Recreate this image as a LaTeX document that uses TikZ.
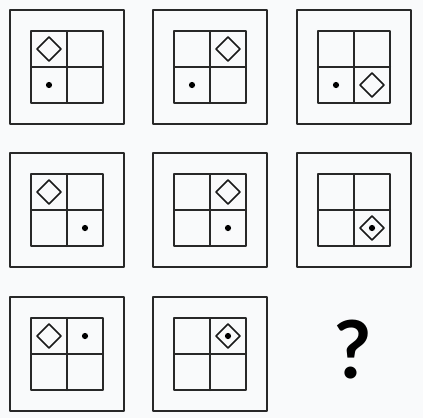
\documentclass[tikz,border=0pt]{standalone}
\usepackage{fontspec}
\setsansfont{Lato}
\definecolor{paper}{RGB}{249,250,251}
\definecolor{ink}{RGB}{40,40,40}
\begin{document}
\begin{tikzpicture}[x=1pt, y=-1pt, line join=round, line cap=round,
    frame/.style={draw=ink, line width=2pt},
    grid/.style={draw=ink, line width=2pt},
    rhomb/.style={draw=black!90, line width=1.6pt},
    dotmark/.style={fill=black}]
    \fill[paper] (0,0) rectangle (423,418);
    \useasboundingbox (0,0) rectangle (423,418);
    % panel corner, diamond cell, dot cell
    \foreach \px/\py/\dx/\dy/\ex/\ey in {10/10/0/0/0/1, 153/10/1/0/0/1, 297/10/1/1/0/1,
        10/153/0/0/1/1, 153/153/1/0/1/1, 297/153/1/1/1/1, 10/297/0/0/1/0, 153/297/1/0/1/0}{
        \begin{scope}[shift={(\px,\py)}]
            \draw[frame](0,0)rectangle(114,114);
            \draw[grid](21,21)rectangle(93,93) (57,21)--(57,93) (21,57)--(93,57);
            \draw[rhomb](39+36*\dx,39+36*\dy)+(-12,0)--+(0,-12)--+(12,0)--+(0,12)--cycle;
            \fill[dotmark](39+36*\ex,39+36*\ey)circle(3.1pt);
        \end{scope}
    }
    \node[inner sep=0, font=\sffamily\bfseries\fontsize{80}{80}\selectfont] (qmark) at (353,350) {?};
\end{tikzpicture}
\end{document}
